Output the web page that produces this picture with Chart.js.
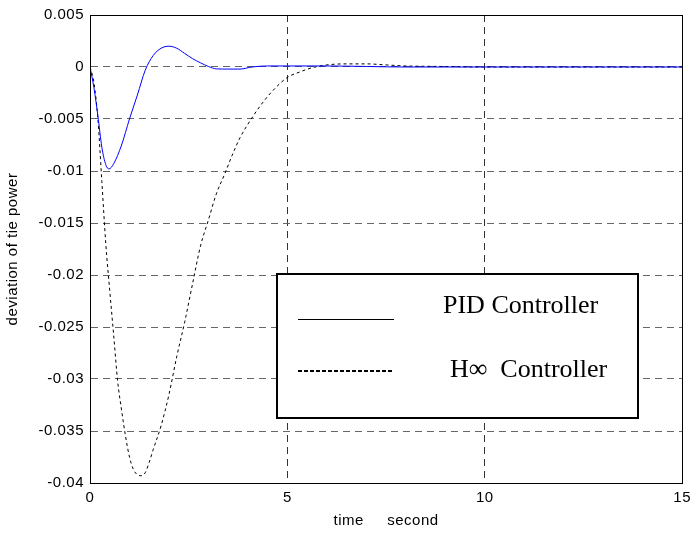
<!DOCTYPE html>
<html>
<head>
<meta charset="utf-8">
<script src="https://cdn.jsdelivr.net/npm/chart.js@4"></script>
<style>
html,body{margin:0;padding:0;background:#fff;}
#wrap{width:697px;height:535px;position:relative;}
</style>
</head>
<body>
<div id="wrap"><canvas id="c" width="697" height="535"></canvas></div>
<script>
// ---- data ----
const pidTime = [0,0.1,0.2,0.3,0.4,0.48,0.6,0.8,1.0,1.2,1.4,1.6,1.8,2.0,2.2,2.4,2.6,2.8,3.0,3.2,3.5,3.8,4.1,4.5,5,6,7,8,9,10,11,12,13,14,15];
const pidValues = [0,-0.002,-0.0047,-0.0077,-0.0094,-0.0098,-0.0093,-0.0075,-0.005,-0.0027,-0.0003,0.0011,0.0018,0.002,0.0018,0.0013,0.0008,0.0004,0.00005,-0.00018,-0.0002,-0.0002,0,0.0001,0.0001,0.0001,0.00005,0,0,0,0,0,0,0,0];

const hinfTime = [0,0.1,0.2,0.3,0.4,0.5,0.6,0.7,0.8,0.9,1.0,1.1,1.2,1.3,1.4,1.5,1.6,1.8,2.0,2.2,2.4,2.6,2.8,3.0,3.2,3.4,3.6,3.8,4.0,4.3,4.6,5.0,5.3,5.6,6.0,6.5,7.0,7.5,8,9,10,12,15];
const hinfValues = [0,-0.0015,-0.005,-0.011,-0.017,-0.0215,-0.0258,-0.0302,-0.033,-0.0355,-0.0375,-0.0387,-0.0392,-0.0393,-0.039,-0.038,-0.0368,-0.0345,-0.0315,-0.0278,-0.0245,-0.0208,-0.0172,-0.0147,-0.0122,-0.0104,-0.0085,-0.0068,-0.0055,-0.0038,-0.0024,-0.001,-0.0005,-0.0001,0.0002,0.0003,0.0003,0.0002,0.0001,0.00005,0,0,0];

const xTickValues = [0,5,10,15];
const xTickLabels = ['0','5','10','15'];
const yTickValues = [0.005,0,-0.005,-0.01,-0.015,-0.02,-0.025,-0.03,-0.035,-0.04];
const yTickLabels = ['0.005','0','-0.005','-0.01','-0.015','-0.02','-0.025','-0.03','-0.035','-0.04'];

const seriesNames = ['PID Controller','H\u221E  Controller'];
const xTitle = 'time     second';
const yTitle = 'deviation of tie power';

const toPts = (t, v) => t.map((x, i) => ({x: x, y: v[i]}));

const SP = '0.5px';
const spacingPlugin = {
  id: 'spacing',
  beforeInit(chart) { chart.ctx.letterSpacing = SP; },
  beforeLayout(chart) { chart.ctx.letterSpacing = SP; },
  beforeDraw(chart) { chart.ctx.letterSpacing = SP; }
};

const framePlugin = {
  id: 'frame',
  afterDatasetsDraw(chart) {
    const {ctx, chartArea: a} = chart;
    ctx.save();
    ctx.strokeStyle = '#000';
    ctx.lineWidth = 1;
    ctx.strokeRect(Math.round(a.left) + 0.5, Math.round(a.top) + 0.5, Math.round(a.right - a.left), Math.round(a.bottom - a.top));
    ctx.restore();
  }
};

const legendPlugin = {
  id: 'boxLegend',
  afterDraw(chart) {
    const ctx = chart.ctx;
    ctx.save();
    ctx.letterSpacing = '0px';
    ctx.fillStyle = '#fff';
    ctx.fillRect(277, 274, 361, 144);
    ctx.strokeStyle = '#000';
    ctx.lineWidth = 2;
    ctx.strokeRect(277, 274, 361, 144);
    ctx.lineWidth = 1.2;
    ctx.beginPath(); ctx.moveTo(298, 319.5); ctx.lineTo(394, 319.5); ctx.stroke();
    ctx.lineWidth = 2;
    ctx.setLineDash([4, 2]);
    ctx.beginPath(); ctx.moveTo(298, 371); ctx.lineTo(394, 371); ctx.stroke();
    ctx.setLineDash([]);
    ctx.fillStyle = '#000';
    ctx.font = '26px "Liberation Serif", "Times New Roman", serif';
    ctx.textBaseline = 'alphabetic';
    ctx.fillText(seriesNames[0], 443, 313);
    ctx.fillText(seriesNames[1], 450, 377);
    ctx.restore();
  }
};

const FONT = {family: 'Liberation Sans, Arial, sans-serif', size: 15};

new Chart(document.getElementById('c'), {
  type: 'scatter',
  data: {
    datasets: [
      {
        label: seriesNames[0],
        data: toPts(pidTime, pidValues),
        showLine: true,
        borderColor: '#0000ff',
        borderWidth: 1,
        pointRadius: 0,
        cubicInterpolationMode: 'monotone',
        fill: false
      },
      {
        label: seriesNames[1],
        data: toPts(hinfTime, hinfValues),
        showLine: true,
        borderColor: '#000',
        borderWidth: 1,
        borderDash: [3, 3],
        pointRadius: 0,
        cubicInterpolationMode: 'monotone',
        fill: false
      }
    ]
  },
  options: {
    responsive: false,
    animation: false,
    layout: {padding: {left: 0, right: 13, top: 15, bottom: 0}},
    plugins: {legend: {display: false}, tooltip: {enabled: false}},
    scales: {
      x: {
        type: 'linear',
        min: 0, max: 15,
        afterBuildTicks(s) { s.ticks = xTickValues.map(v => ({value: v})); },
        afterFit(s) { s.height = 52; },
        ticks: {
          callback: (v) => xTickLabels[xTickValues.indexOf(v)],
          color: '#000', font: FONT,
          padding: 6, maxRotation: 0
        },
        grid: {color: '#333', drawTicks: false},
        border: {display: true, color: '#000', dash: [7, 5], width: 1},
        title: {display: true, text: xTitle, color: '#000', font: FONT, padding: {top: 0, bottom: 5}}
      },
      y: {
        type: 'linear',
        min: -0.04, max: 0.005,
        afterBuildTicks(s) { s.ticks = yTickValues.slice().reverse().map(v => ({value: v})); },
        afterFit(s) { s.width = 90; },
        ticks: {
          callback: (v) => {
            let i = yTickValues.findIndex(t => Math.abs(t - v) < 1e-9);
            return i >= 0 ? yTickLabels[i] : '';
          },
          color: '#000', font: FONT,
          padding: 6
        },
        grid: {color: '#666', drawTicks: false},
        border: {display: true, color: '#000', dash: [7, 5], width: 1},
        title: {display: true, text: yTitle, color: '#000', font: FONT, padding: {top: 4, bottom: 0}}
      }
    }
  },
  plugins: [spacingPlugin, framePlugin, legendPlugin]
});
</script>
</body>
</html>
